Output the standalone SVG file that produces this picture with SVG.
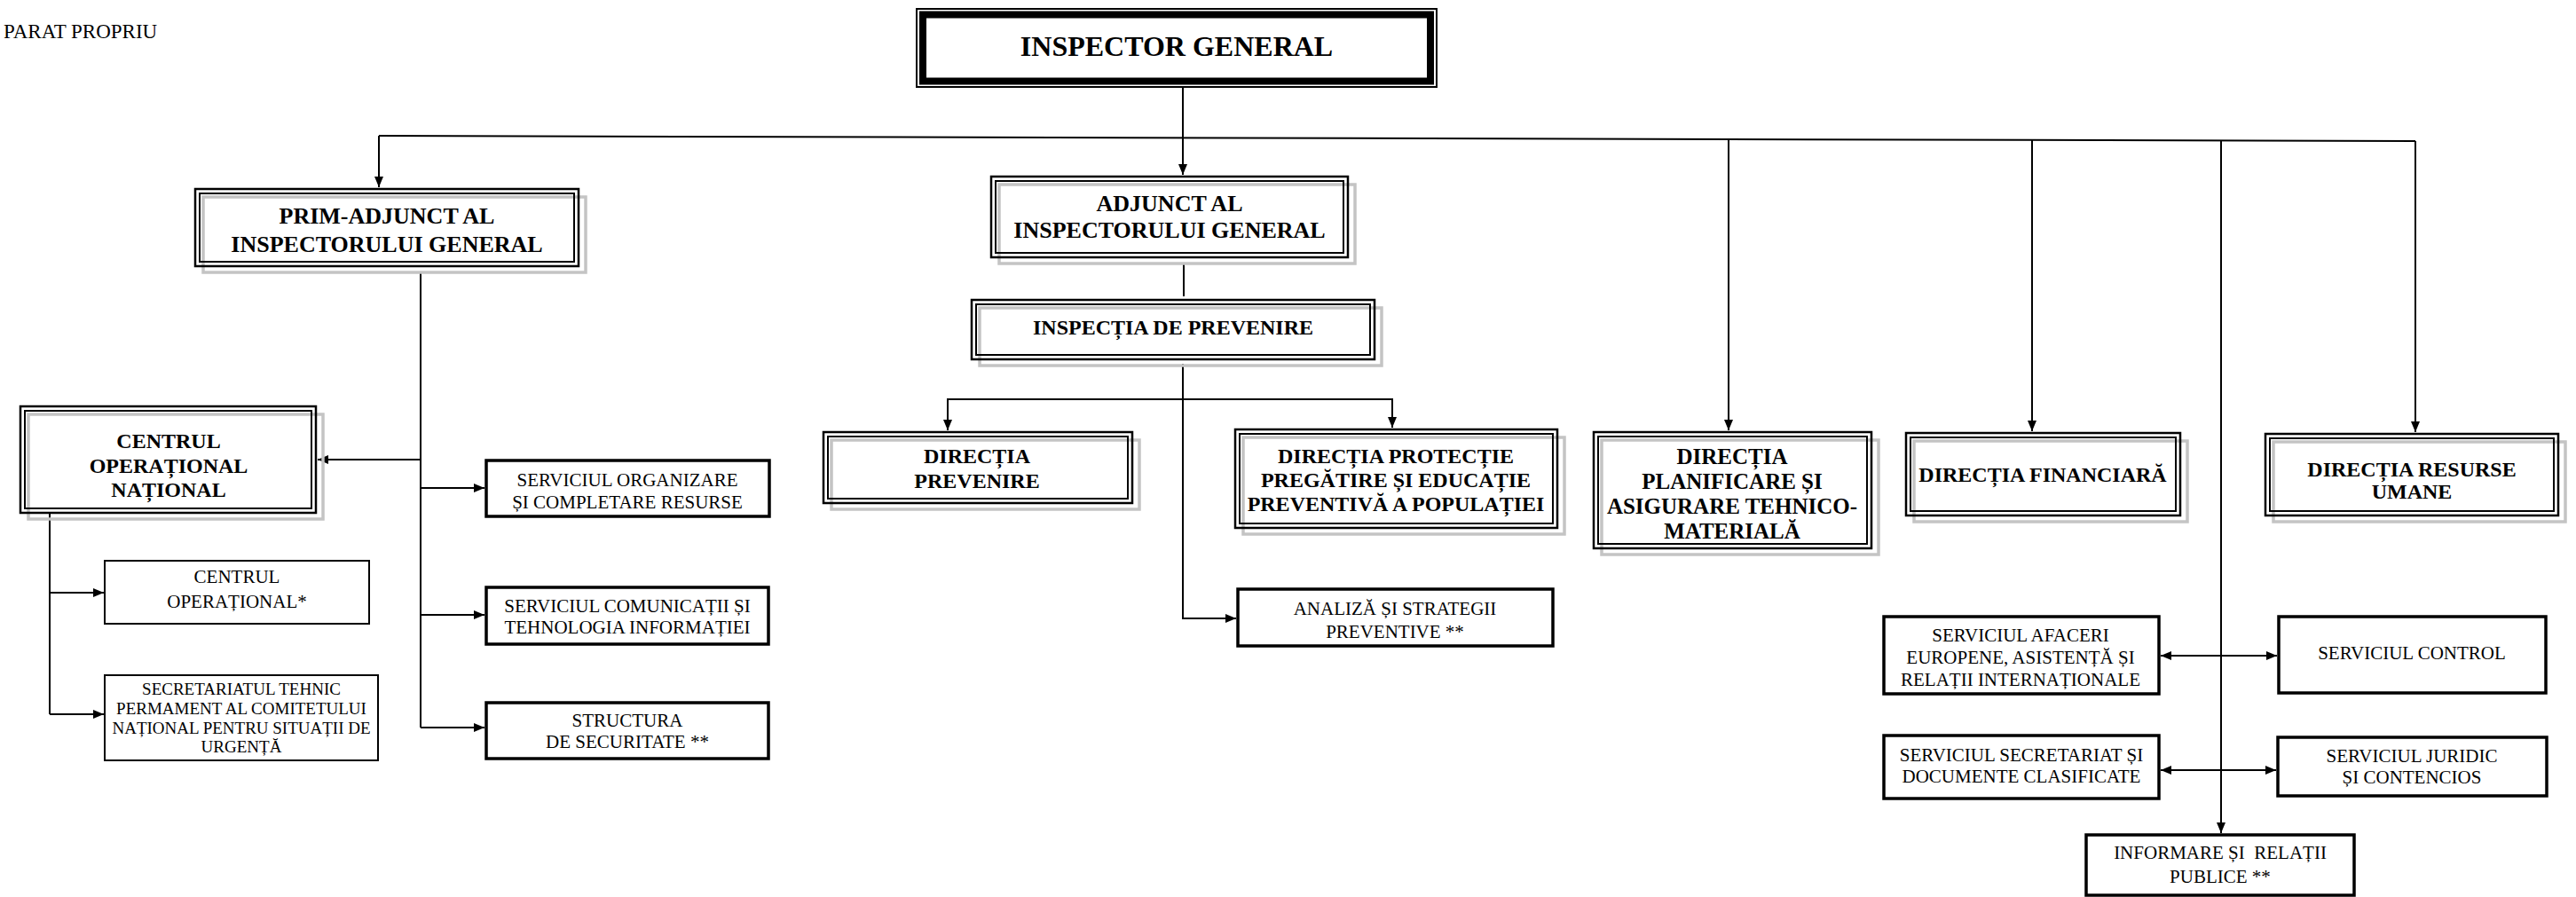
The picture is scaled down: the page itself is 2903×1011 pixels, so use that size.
<svg xmlns="http://www.w3.org/2000/svg" width="2903" height="1011" viewBox="0 0 2903 1011">
<style>
text{font-family:"Liberation Serif","Times New Roman",serif;fill:#000;text-anchor:middle}
.b{font-weight:bold;font-size:24px}
.b26{font-weight:bold;font-size:26px}
.r{font-size:21px}
.r19{font-size:19px}
.sh{fill:none;stroke:#c4c4c4;stroke-width:3.5}
.o{fill:none;stroke:#000;stroke-width:2.5}
.i{fill:none;stroke:#000;stroke-width:2}
.s4{fill:#fff;stroke:#000;stroke-width:3.5}
.s2{fill:#fff;stroke:#000;stroke-width:2}
.c{fill:none;stroke:#000;stroke-width:2}
</style>
<defs>
<marker id="ah" viewBox="0 0 12 10" refX="12" refY="5" markerWidth="12" markerHeight="10" markerUnits="userSpaceOnUse" orient="auto-start-reverse">
<path d="M0,0 L12,5 L0,10 z" fill="#000"/>
</marker>
</defs>

<text x="4" y="43" style="font-size:23px;text-anchor:start">PARAT PROPRIU</text>

<g id="connectors">
<path class="c" d="M1333,99 V197" marker-end="url(#ah)"/>
<path class="c" d="M427,153 L2722,159"/>
<path class="c" d="M427,153 V211" marker-end="url(#ah)"/>
<path class="c" d="M1948,157 V485" marker-end="url(#ah)"/>
<path class="c" d="M2290,158 V486" marker-end="url(#ah)"/>
<path class="c" d="M2722,159 V487" marker-end="url(#ah)"/>
<path class="c" d="M2503,158 V939" marker-end="url(#ah)"/>
<path class="c" d="M1334,297 V334"/>
<path class="c" d="M1333,410 V697 H1393" marker-end="url(#ah)"/>
<path class="c" d="M1068,485 V450 H1569 V482" marker-end="url(#ah)" marker-start="url(#ah)"/>
<path class="c" d="M474,308 V820"/>
<path class="c" d="M474,518 H358" marker-end="url(#ah)"/>
<path class="c" d="M474,550 H546" marker-end="url(#ah)"/>
<path class="c" d="M474,693 H546" marker-end="url(#ah)"/>
<path class="c" d="M474,820 H546" marker-end="url(#ah)"/>
<path class="c" d="M56,578 V805"/>
<path class="c" d="M56,668 H117" marker-end="url(#ah)"/>
<path class="c" d="M56,805 H117" marker-end="url(#ah)"/>
<path class="c" d="M2435,739 H2566" marker-start="url(#ah)" marker-end="url(#ah)"/>
<path class="c" d="M2435,868 H2565" marker-start="url(#ah)" marker-end="url(#ah)"/>
</g>

<g id="inspector-general">
<rect x="1033" y="10" width="586" height="88" fill="#fff" stroke="#000" stroke-width="2"/>
<rect x="1040" y="16.5" width="572" height="75" fill="none" stroke="#000" stroke-width="8"/>
<text x="1326" y="63" style="font-weight:bold;font-size:32px">INSPECTOR GENERAL</text>
</g>

<g id="prim-adjunct">
<rect class="sh" x="229" y="222" width="431" height="85"/>
<rect class="o" x="220" y="213" width="432" height="87"/>
<rect class="i" x="225" y="218" width="422" height="77"/>
<text class="b26" x="436" y="252">PRIM-ADJUNCT AL</text>
<text class="b26" x="436" y="284">INSPECTORULUI GENERAL</text>
</g>

<g id="adjunct">
<rect class="sh" x="1126" y="208" width="401" height="89"/>
<rect class="o" x="1117" y="199" width="402" height="91"/>
<rect class="i" x="1122" y="204" width="392" height="81"/>
<text class="b26" x="1318" y="238">ADJUNCT AL</text>
<text class="b26" x="1318" y="268">INSPECTORULUI GENERAL</text>
</g>

<g id="inspectia-prevenire">
<rect class="sh" x="1104" y="347" width="453" height="65"/>
<rect class="o" x="1095" y="338" width="454" height="67"/>
<rect class="i" x="1100" y="343" width="444" height="57"/>
<text class="b" x="1322" y="377">INSPECȚIA DE PREVENIRE</text>
</g>

<g id="directia-prevenire">
<rect class="sh" x="937" y="496" width="347" height="78"/>
<rect class="o" x="928" y="487" width="348" height="80"/>
<rect class="i" x="933" y="492" width="338" height="70"/>
<text class="b" x="1101" y="522">DIRECȚIA</text>
<text class="b" x="1101" y="550">PREVENIRE</text>
</g>

<g id="directia-protectie">
<rect class="sh" x="1401" y="493" width="362" height="109"/>
<rect class="o" x="1392" y="484" width="363" height="111"/>
<rect class="i" x="1397" y="489" width="353" height="101"/>
<text class="b" x="1573" y="522">DIRECȚIA PROTECȚIE</text>
<text class="b" x="1573" y="549">PREGĂTIRE ȘI EDUCAȚIE</text>
<text class="b" x="1573" y="576">PREVENTIVĂ A POPULAȚIEI</text>
</g>

<g id="directia-planificare">
<rect class="sh" x="1805" y="496" width="312" height="129"/>
<rect class="o" x="1796" y="487" width="313" height="131"/>
<rect class="i" x="1801" y="492" width="303" height="121"/>
<text class="b" x="1952" y="523" style="font-size:25px">DIRECȚIA</text>
<text class="b" x="1952" y="551" style="font-size:25px">PLANIFICARE ȘI</text>
<text class="b" x="1952" y="579" style="font-size:25px">ASIGURARE TEHNICO-</text>
<text class="b" x="1952" y="607" style="font-size:25px">MATERIALĂ</text>
</g>

<g id="directia-financiara">
<rect class="sh" x="2157" y="497" width="308" height="91"/>
<rect class="o" x="2148" y="488" width="309" height="93"/>
<rect class="i" x="2153" y="493" width="299" height="83"/>
<text class="b" x="2302" y="543">DIRECȚIA FINANCIARĂ</text>
</g>

<g id="directia-resurse-umane">
<rect class="sh" x="2562" y="498" width="329" height="90"/>
<rect class="o" x="2553" y="489" width="330" height="92"/>
<rect class="i" x="2558" y="494" width="320" height="82"/>
<text class="b" x="2718" y="537">DIRECȚIA RESURSE</text>
<text class="b" x="2718" y="562">UMANE</text>
</g>

<g id="centrul-operational-national">
<rect class="sh" x="32" y="467" width="332" height="118"/>
<rect class="o" x="23" y="458" width="333" height="120"/>
<rect class="i" x="28" y="463" width="323" height="110"/>
<text class="b" x="190" y="505">CENTRUL</text>
<text class="b" x="190" y="533">OPERAȚIONAL</text>
<text class="b" x="190" y="560">NAȚIONAL</text>
</g>

<g id="serviciul-organizare">
<rect class="s4" x="548" y="519" width="319" height="63"/>
<text class="r" x="707" y="548">SERVICIUL ORGANIZARE</text>
<text class="r" x="707" y="573">ȘI COMPLETARE RESURSE</text>
</g>

<g id="serviciul-comunicatii">
<rect class="s4" x="548" y="662" width="318" height="64"/>
<text class="r" x="707" y="690">SERVICIUL COMUNICAȚII ȘI</text>
<text class="r" x="707" y="714">TEHNOLOGIA INFORMAȚIEI</text>
</g>

<g id="structura-securitate">
<rect class="s4" x="548" y="792" width="318" height="63"/>
<text class="r" x="707" y="819">STRUCTURA</text>
<text class="r" x="707" y="843">DE SECURITATE **</text>
</g>

<g id="centrul-operational">
<rect class="s2" x="118" y="632" width="298" height="71"/>
<text class="r" x="267" y="657">CENTRUL</text>
<text class="r" x="267" y="685">OPERAȚIONAL*</text>
</g>

<g id="secretariatul-tehnic">
<rect class="s2" x="118" y="761" width="308" height="96"/>
<text class="r19" x="272" y="783">SECRETARIATUL TEHNIC</text>
<text class="r19" x="272" y="805">PERMAMENT AL COMITETULUI</text>
<text class="r19" x="272" y="827">NAȚIONAL PENTRU SITUAȚII DE</text>
<text class="r19" x="272" y="848">URGENȚĂ</text>
</g>

<g id="analiza-strategii">
<rect class="s4" x="1395" y="664" width="355" height="64"/>
<text class="r" x="1572" y="693">ANALIZĂ ȘI STRATEGII</text>
<text class="r" x="1572" y="719">PREVENTIVE **</text>
</g>

<g id="serviciul-afaceri">
<rect class="s4" x="2123" y="695" width="310" height="87"/>
<text class="r" x="2277" y="723">SERVICIUL AFACERI</text>
<text class="r" x="2277" y="748">EUROPENE, ASISTENȚĂ ȘI</text>
<text class="r" x="2277" y="773">RELAȚII INTERNAȚIONALE</text>
</g>

<g id="serviciul-control">
<rect class="s4" x="2568" y="695" width="301" height="86"/>
<text class="r" x="2718" y="743">SERVICIUL CONTROL</text>
</g>

<g id="serviciul-secretariat">
<rect class="s4" x="2123" y="829" width="310" height="71"/>
<text class="r" x="2278" y="858">SERVICIUL SECRETARIAT ȘI</text>
<text class="r" x="2278" y="882">DOCUMENTE CLASIFICATE</text>
</g>

<g id="serviciul-juridic">
<rect class="s4" x="2567" y="831" width="303" height="66"/>
<text class="r" x="2718" y="859">SERVICIUL JURIDIC</text>
<text class="r" x="2718" y="883">ȘI CONTENCIOS</text>
</g>

<g id="informare-relatii">
<rect class="s4" x="2351" y="941" width="302" height="68"/>
<text class="r" x="2502" y="968" xml:space="preserve">INFORMARE ȘI  RELAȚII</text>
<text class="r" x="2502" y="995">PUBLICE **</text>
</g>
</svg>
